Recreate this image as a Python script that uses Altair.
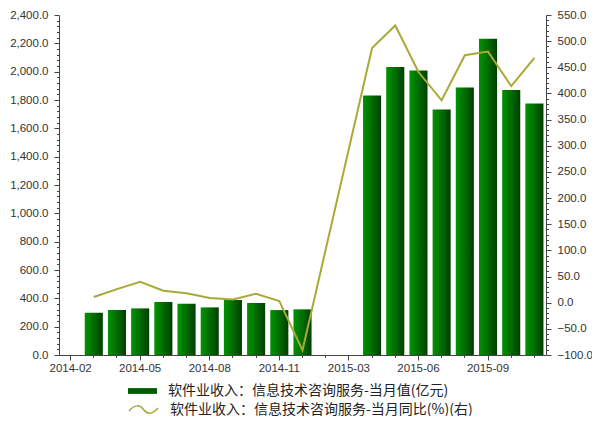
import altair as alt
import pandas as pd

months = ['2014-02', '2014-03', '2014-04', '2014-05', '2014-06', '2014-07', '2014-08',
          '2014-09', '2014-10', '2014-11', '2014-12', '2015-02', '2015-03', '2015-04',
          '2015-05', '2015-06', '2015-07', '2015-08', '2015-09', '2015-10', '2015-11']
monthly_value = [None, 298, 317, 329, 374, 362, 336, 388, 367, 317, 322,
                 None, None, 1832, 2033, 2008, 1733, 1888, 2233, 1871, 1775]
yoy_pct = [None, 11, 26, 40, 23, 18, 9, 6, 17, 3, -91,
           None, None, 487, 530, 441, 387, 473, 480, 414, 468]
major_months = ['2014-02', '2014-05', '2014-08', '2014-11', '2015-03', '2015-06', '2015-09']
left_ticks = list(range(0, 2401, 40))
right_ticks = list(range(-100, 551, 10))

bar_label = '软件业收入：信息技术咨询服务-当月值(亿元)'
line_label = '软件业收入：信息技术咨询服务-当月同比(%)(右)'

df = pd.DataFrame({'month': months, 'value': monthly_value, 'yoy': yoy_pct})

major_js = '[' + ','.join("'%s'" % m for m in major_months) + ']'
x_test = 'indexof(%s, datum.value) >= 0' % major_js

axis_common = dict(domainColor='#444444', tickColor='#444444', labelColor='#333333',
                   labelFont='Liberation Sans', labelFontSize=11.5, labelOverlap=False,
                   grid=False, title=None)

x_enc = alt.X('month:N', sort=months,
              scale=alt.Scale(type='band', domain=months, paddingInner=0.22, paddingOuter=0.11),
              axis=alt.Axis(values=months, labelAngle=0, labelPadding=2,
                            labelExpr="%s ? datum.value : ''" % x_test,
                            tickSize={"condition": {"test": x_test, "value": 5}, "value": 2.5},
                            **axis_common))

base = alt.Chart(df).encode(x=x_enc)

grad = alt.LinearGradient(gradient='linear', x1=0, x2=1, y1=0, y2=0,
                          stops=[alt.GradientStop(offset=0, color='#009400'),
                                 alt.GradientStop(offset=0.45, color='#007000'),
                                 alt.GradientStop(offset=1, color='#003f00')])

left_scale = alt.Scale(domain=[0, 2400], nice=False, zero=False)
right_scale = alt.Scale(domain=[-100, 550], nice=False, zero=False)

legend_common = dict(orient='none', legendX=69, title=None, padding=0, symbolSize=841,
                     labelOffset=11, labelFont='Noto Sans CJK SC', labelFontSize=14,
                     labelColor='#222222', labelLimit=400)

bars = base.mark_bar(color=grad).encode(
    y=alt.Y('value:Q', scale=left_scale,
            axis=alt.Axis(orient='left', values=left_ticks, labelPadding=6,
                          labelExpr="datum.value % 200 === 0 ? format(datum.value, ',.1f') : ''",
                          tickSize={"condition": {"test": "datum.value % 200 === 0", "value": 5},
                                    "value": 2.5},
                          **axis_common))
).transform_filter('isValid(datum.value)')

bar_legend = base.mark_bar(opacity=0).encode(
    y=alt.Y('value:Q', scale=left_scale, axis=None),
    fill=alt.Fill('s1:N', scale=alt.Scale(domain=[bar_label], range=['#005c00']),
                  legend=alt.Legend(legendY=361.5, symbolType='M-1,-0.2H1V0.2H-1Z',
                                    symbolOpacity=1, symbolStrokeWidth=0, **legend_common))
).transform_filter('isValid(datum.value)').transform_calculate(s1="'%s'" % bar_label)

line = base.mark_line(strokeWidth=2).encode(
    y=alt.Y('yoy:Q', scale=right_scale,
            axis=alt.Axis(orient='right', values=right_ticks, labelPadding=6,
                          labelExpr="datum.value % 50 === 0 ? format(datum.value, '.1f') : ''",
                          tickSize={"condition": {"test": "datum.value % 50 === 0", "value": 5},
                                    "value": 2.5},
                          **axis_common)),
    stroke=alt.Stroke('s2:N', scale=alt.Scale(domain=[line_label], range=['#a8aa38']),
                      legend=alt.Legend(legendY=379,
                                        symbolType='M-1,0.1C-0.6,-0.35 -0.25,-0.35 0,0C0.25,0.35 0.6,0.35 1,-0.1',
                                        symbolStrokeWidth=1.5, symbolFillColor='transparent',
                                        **legend_common))
).transform_filter('isValid(datum.yoy)').transform_calculate(s2="'%s'" % line_label)

chart = alt.layer(bars, bar_legend, line).resolve_scale(y='independent').properties(
    width=487, height=340,
    autosize=alt.AutoSizeParams(type='none'),
    padding={'left': 51, 'top': 7, 'right': 46, 'bottom': 61},
    background='white'
).configure_view(stroke=None)

chart.save("out.html", embed_options={"renderer": "svg", "actions": False})
